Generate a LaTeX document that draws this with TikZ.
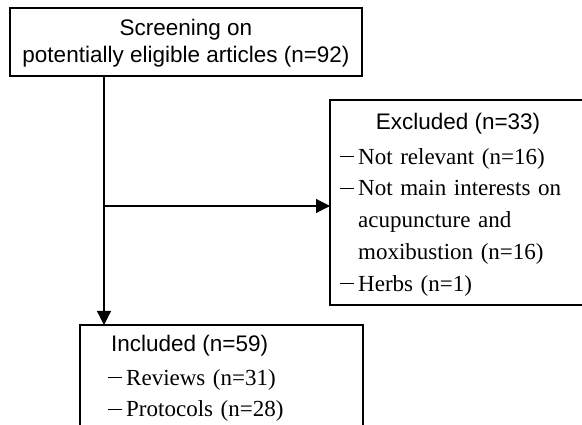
\documentclass[tikz,border=0pt]{standalone}
\usepackage{fontspec}
\setmainfont{Liberation Serif}
\setsansfont{Liberation Sans}
\usetikzlibrary{arrows.meta}
\newcommand{\lstdash}{\makebox[18pt][l]{\rule[7.5pt]{14pt}{0.9pt}}}
\newcommand{\wideskip}{\spaceskip=0.33em plus 0.1em\relax}
\begin{document}
\begin{tikzpicture}[x=1pt,y=-1pt,
  boxline/.style={draw, line width=1.2pt},
  box/.style={boxline, inner sep=0pt, outer sep=0pt},
  sanstxt/.style={font=\sffamily\fontsize{22.5}{26}\selectfont, inner sep=0pt, anchor=base},
  seriftxt/.style={font=\fontsize{23}{27}\selectfont\wideskip, inner sep=0pt, anchor=base west},
  arr/.style={-{Triangle[length=14pt,width=14pt]}, line width=1.2pt}]
\useasboundingbox (0,0) rectangle (582,425);

% top box
\node[box, minimum width=352pt, minimum height=68pt, anchor=north west] (screen) at (10,8) {};
\node[sanstxt] (s1) at (186,36) {Screening on};
\node[sanstxt] (s2) at (186,63) {potentially eligible articles (n=92)};

% excluded box (open at the right edge of the picture)
\coordinate (exTL) at (330,100);
\coordinate (exBL) at (330,305);
\coordinate (exTR) at (582,100);
\coordinate (exBR) at (582,305);
\draw[boxline] (exTR) -- (exTL) -- (exBL) -- (exBR);
\node[sanstxt] (exh) at (458,130) {Excluded (n=33)};
\node[seriftxt] (ex1) at (340,164.5) {\lstdash Not relevant (n=16)};
\node[seriftxt] (ex2) at (340,196) {\lstdash Not main interests on};
\node[seriftxt] (ex3) at (358,228) {acupuncture and};
\node[seriftxt] (ex4) at (358,259.5) {moxibustion (n=16)};
\node[seriftxt] (ex5) at (340,291) {\lstdash Herbs (n=1)};

% included box (open at the bottom edge of the picture)
\coordinate (inTL) at (80,325);
\coordinate (inTR) at (363,325);
\coordinate (inBL) at (80,425);
\coordinate (inBR) at (363,425);
\draw[boxline] (inBL) -- (inTL) -- (inTR) -- (inBR);
\node[sanstxt, anchor=base west] (inh) at (111,352) {Included (n=59)};
\node[seriftxt] (in1) at (108,385) {\lstdash Reviews (n=31)};
\node[seriftxt] (in2) at (108,417) {\lstdash Protocols (n=28)};

% connectors
\coordinate (src) at (104,76);
\coordinate (branch) at (104,206);
\coordinate (exin) at (330,206);
\coordinate (intop) at (104,325);
\draw[arr] (src) -- (intop);
\draw[arr] (branch) -- (exin);
\end{tikzpicture}
\end{document}
